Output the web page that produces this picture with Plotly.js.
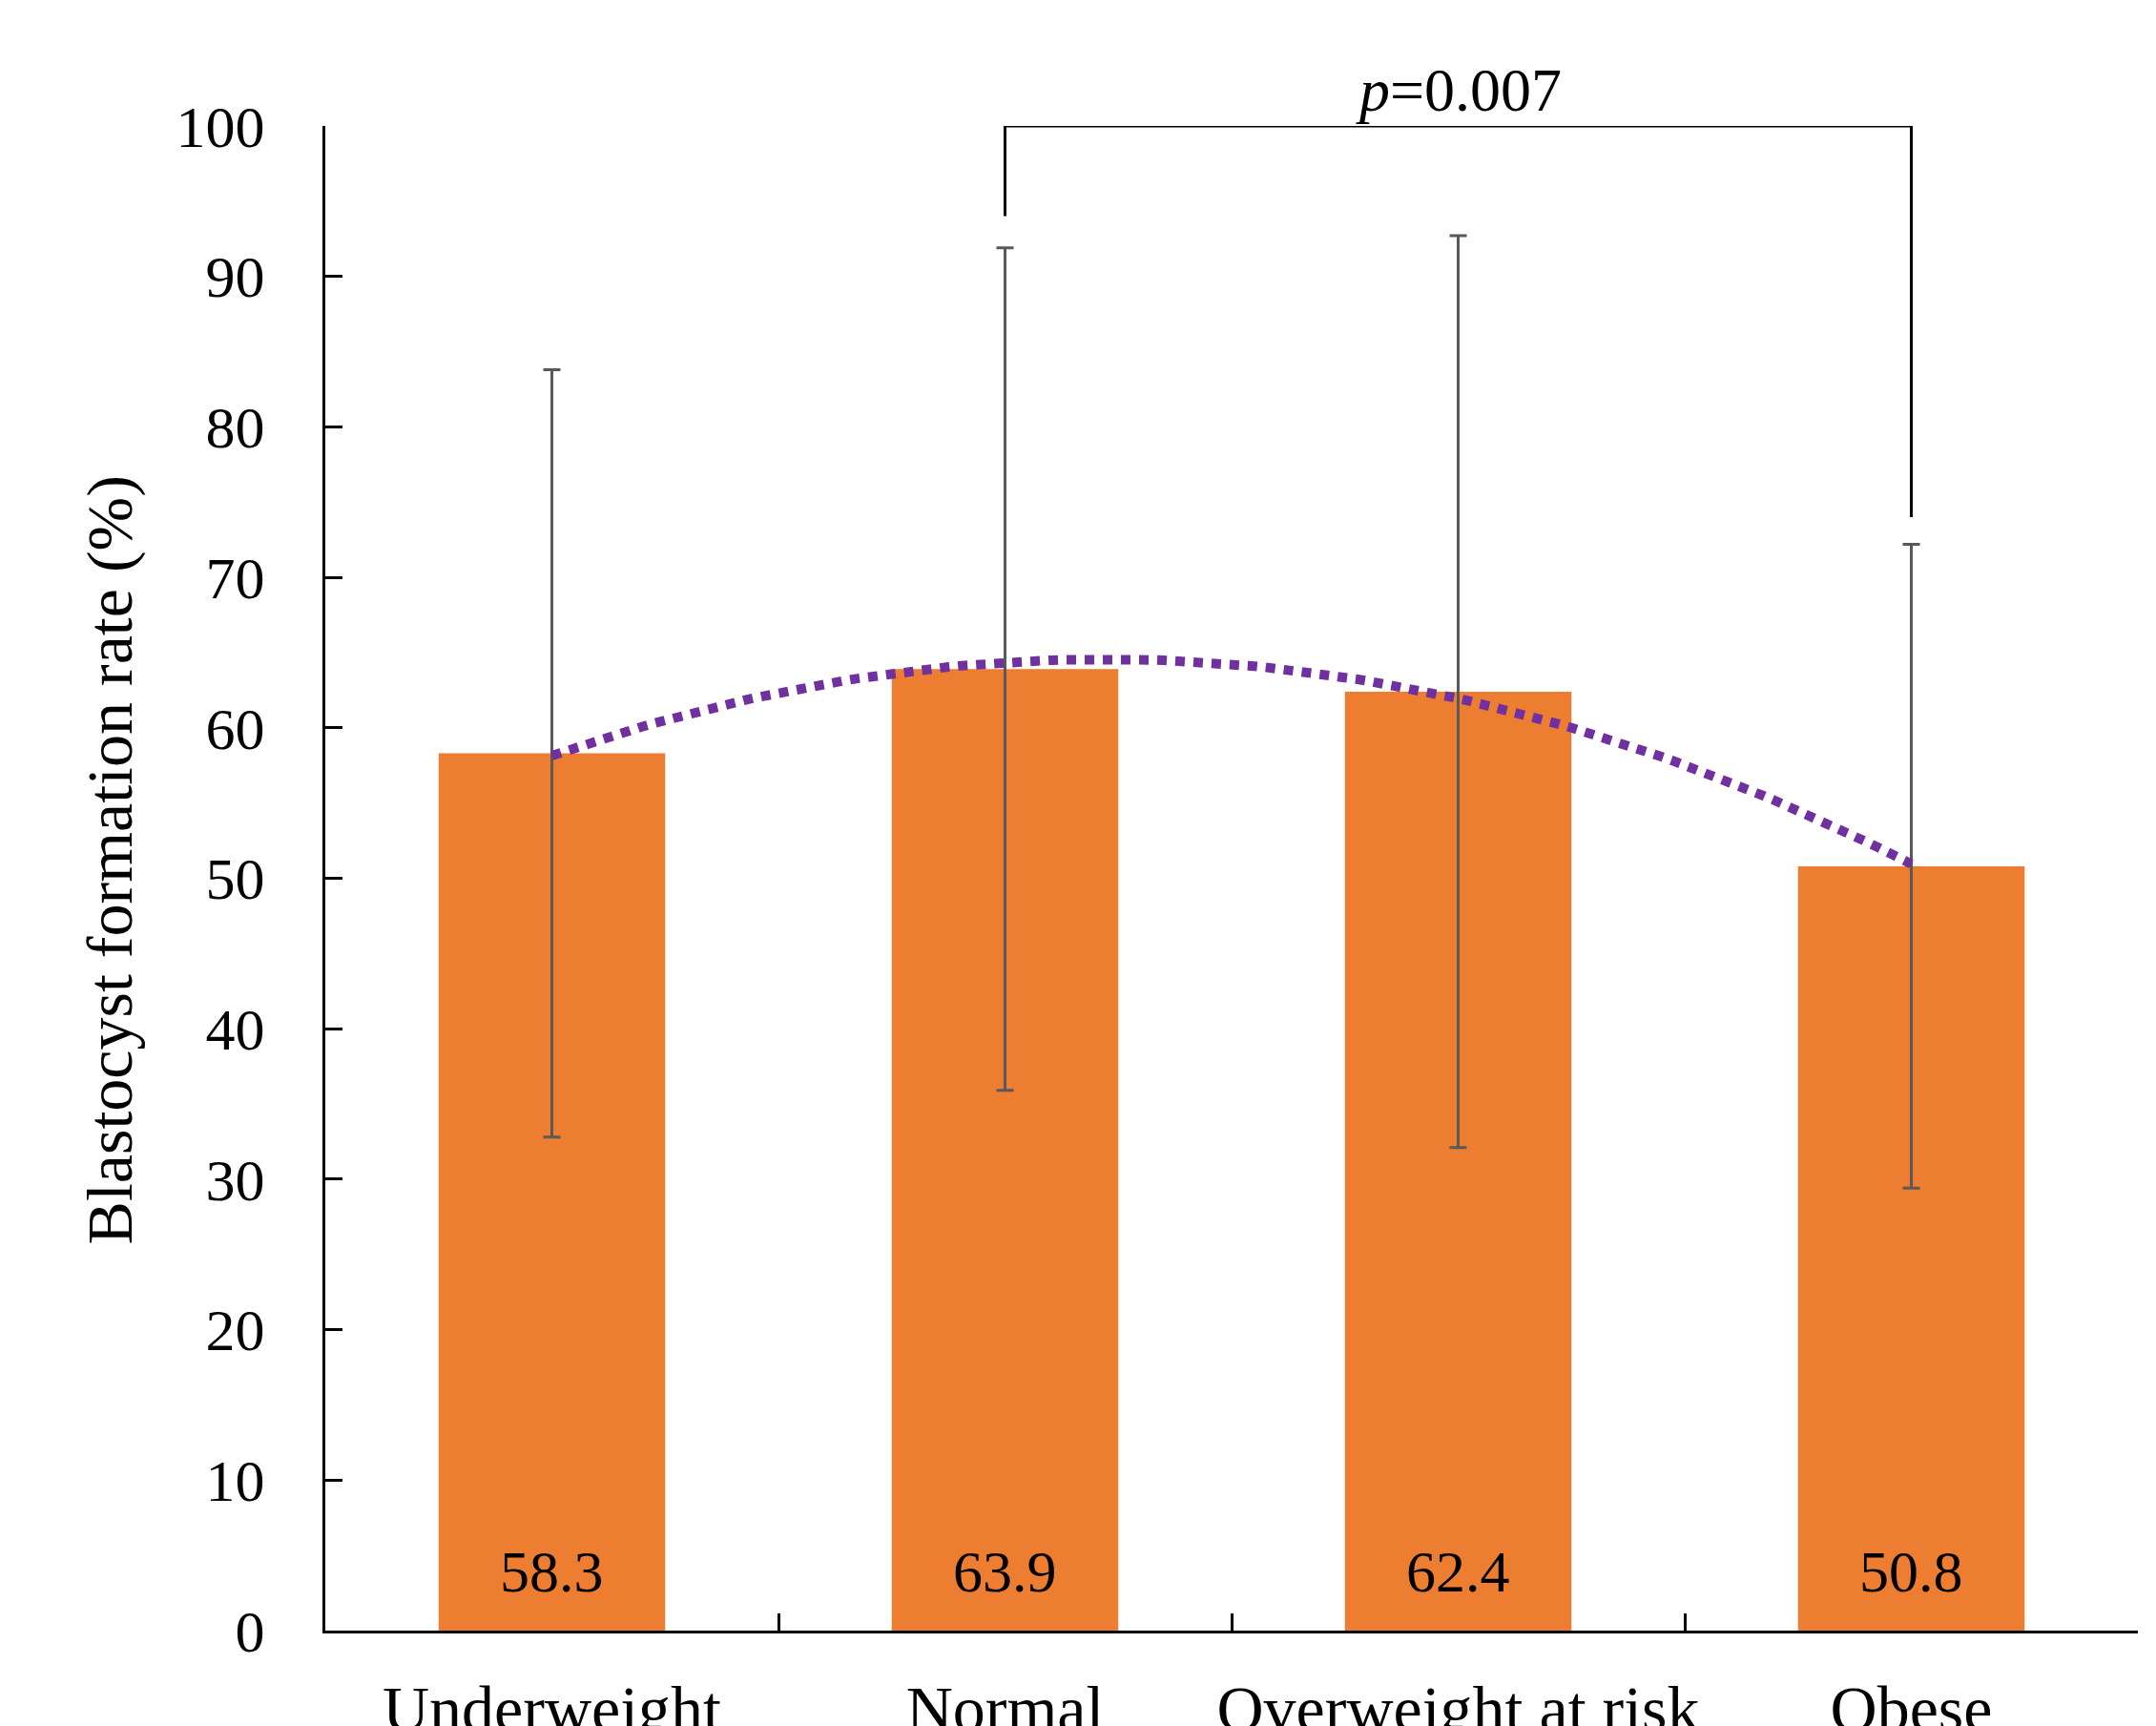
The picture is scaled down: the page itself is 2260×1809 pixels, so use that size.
<!DOCTYPE html>
<html>
<head>
<meta charset="utf-8">
<script src="https://cdn.plot.ly/plotly-3.0.1.min.js"></script>
<style>html,body{margin:0;padding:0;background:#fff;}</style>
</head>
<body>
<div id="chart" style="width:2260px;height:1809px;"></div>
<script>
// ---- data ----
const categories = ['Underweight', 'Normal', 'Overweight at risk', 'Obese'];
const rates = [58.3, 63.9, 62.4, 50.8];          // blastocyst formation rate (%)
const sdErr = [25.5, 28.0, 30.3, 21.4];          // error bar (SD)
const yTickVals = [0, 10, 20, 30, 40, 50, 60, 70, 80, 90, 100];
const yTitle = 'Blastocyst formation rate (%)';
const pText = '<i>p</i>=0.007';
const bracketFrom = 'Normal';
const bracketTo = 'Obese';
const bracketTop = 100;
const bracketLegEnds = [94, 74];                 // left leg end, right leg end

// ---- 2nd order polynomial trendline (least squares, as in the original) ----
const idx = categories.map((c, i) => i);
function quadFit(xs, ys) {
  let s = [0, 0, 0, 0, 0], t = [0, 0, 0];
  xs.forEach((x, i) => {
    for (let k = 0; k < 5; k++) s[k] += Math.pow(x, k);
    for (let k = 0; k < 3; k++) t[k] += Math.pow(x, k) * ys[i];
  });
  const M = [[s[0], s[1], s[2], t[0]], [s[1], s[2], s[3], t[1]], [s[2], s[3], s[4], t[2]]];
  for (let c = 0; c < 3; c++) {
    for (let r = c + 1; r < 3; r++) {
      const f = M[r][c] / M[c][c];
      for (let k = c; k < 4; k++) M[r][k] -= f * M[c][k];
    }
  }
  const b = [0, 0, 0];
  for (let r = 2; r >= 0; r--) {
    let v = M[r][3];
    for (let k = r + 1; k < 3; k++) v -= M[r][k] * b[k];
    b[r] = v / M[r][r];
  }
  return b;
}
const coef = quadFit(idx, rates);
const trendX = [], trendY = [];
for (let i = 0; i <= 120; i++) {
  const x = idx[0] + (idx[idx.length - 1] - idx[0]) * i / 120;
  trendX.push(x);
  trendY.push(coef[0] + coef[1] * x + coef[2] * x * x);
}

const serif = 'Liberation Serif, Times New Roman, serif';
const i0 = categories.indexOf(bracketFrom), i1 = categories.indexOf(bracketTo);

const traces = [
  {
    type: 'bar', x: categories, y: rates,
    marker: { color: '#ED7D31' },
    error_y: { type: 'data', array: sdErr, visible: true, color: '#595959', thickness: 3, width: 9 },
    hoverinfo: 'x+y', showlegend: false
  },
  {
    type: 'scatter', mode: 'lines', x: trendX, y: trendY, xaxis: 'x2', yaxis: 'y',
    line: { color: '#7030A0', width: 10, dash: '10px,9px', shape: 'linear' },
    showlegend: false, hoverinfo: 'skip'
  },
  {
    type: 'scatter', mode: 'lines', xaxis: 'x2', yaxis: 'y',
    x: [i0, i0, i1, i1], y: [bracketLegEnds[0], bracketTop, bracketTop, bracketLegEnds[1]],
    line: { color: '#000000', width: 3 }, cliponaxis: false,
    showlegend: false, hoverinfo: 'skip'
  }
];

const annotations = categories.map((c, i) => ({
  x: c, y: 0, xref: 'x', yref: 'y', yanchor: 'bottom', yshift: 26,
  text: rates[i].toFixed(1), showarrow: false,
  font: { family: serif, size: 62, color: '#000' }
}));
annotations.push({
  x: (i0 + i1) / 2, y: bracketTop, xref: 'x2', yref: 'y', yanchor: 'bottom', yshift: 0,
  text: pText, showarrow: false,
  font: { family: serif, size: 64, color: '#000' }
});
annotations.push({
  x: -0.119, y: 0.512, xref: 'paper', yref: 'paper', xanchor: 'center', yanchor: 'middle',
  textangle: -90, text: yTitle, showarrow: false,
  font: { family: serif, size: 68, color: '#000' }
});

const layout = {
  width: 2260, height: 1809,
  margin: { l: 341, r: 19, t: 132, b: 100, pad: 0 },
  paper_bgcolor: '#fff', plot_bgcolor: '#fff',
  bargap: 0.5,
  font: { family: serif, color: '#000' },
  xaxis: {
    type: 'category', tickson: 'boundaries', ticks: 'inside', ticklen: 18, tickwidth: 3, tickcolor: '#000',
    showline: true, linecolor: '#000', linewidth: 3, showgrid: false, zeroline: false,
    tickfont: { family: serif, size: 68, color: '#000' }, ticklabelstandoff: 20, tickangle: 0,
    range: [-0.5, 3.5], fixedrange: true
  },
  xaxis2: { overlaying: 'x', range: [-0.5, 3.5], visible: false, fixedrange: true },
  yaxis: {
    range: [0, 100], tickvals: yTickVals, ticks: 'inside', ticklen: 18, tickwidth: 3, tickcolor: '#000',
    showline: true, linecolor: '#000', linewidth: 3, showgrid: false, zeroline: false,
    tickfont: { family: serif, size: 62, color: '#000' }, ticklabelstandoff: 48,
    fixedrange: true
  },
  annotations: annotations,
  showlegend: false
};

Plotly.newPlot('chart', traces, layout, { displayModeBar: false, staticPlot: true });
</script>
</body>
</html>
